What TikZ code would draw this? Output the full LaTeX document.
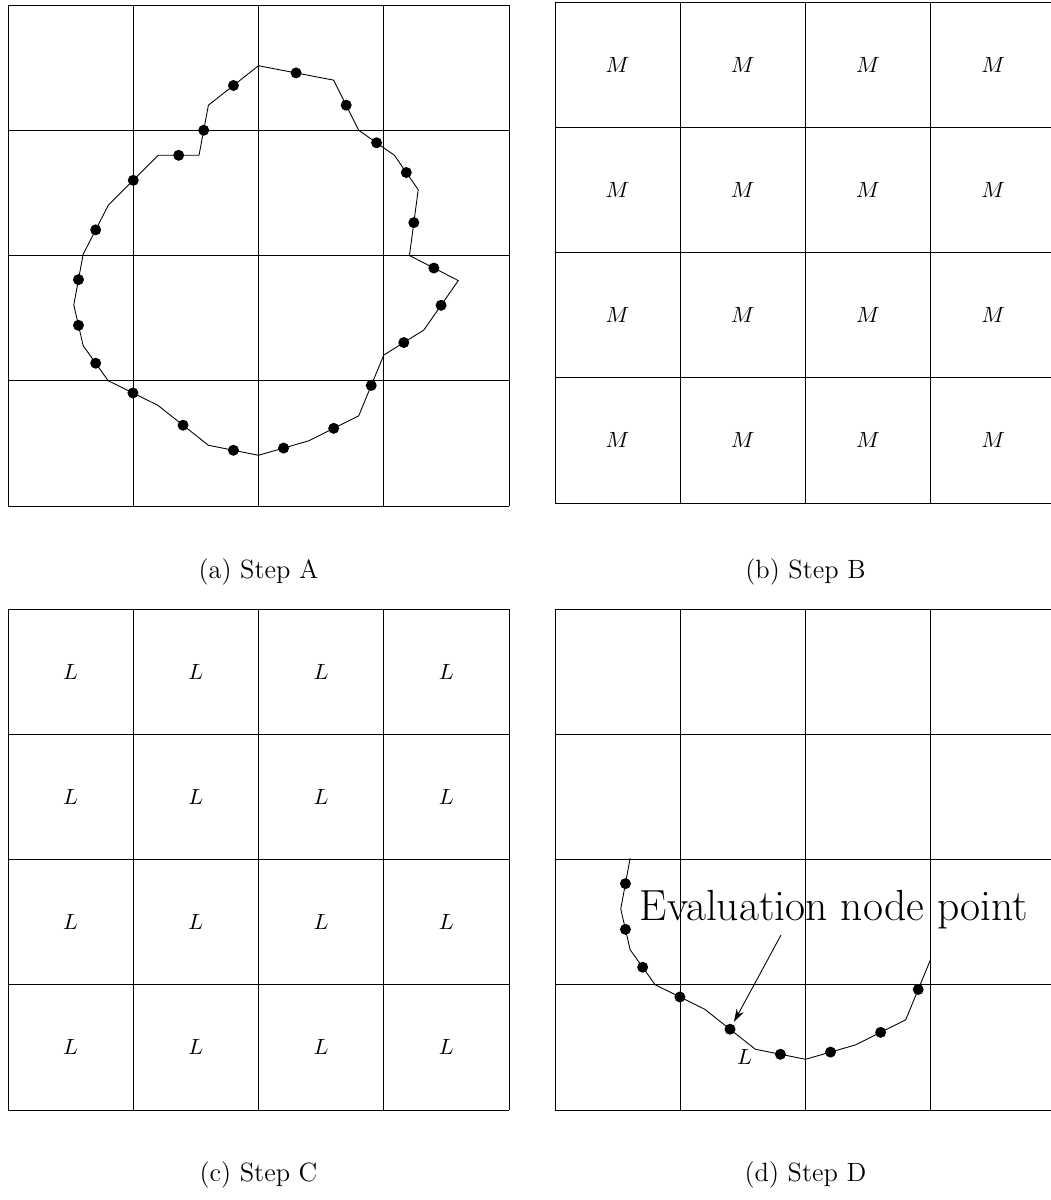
\documentclass[tikz,border=0pt]{standalone}
\usepackage{amsmath}
\usetikzlibrary{calc,arrows.meta}

\begin{document}
\begin{tikzpicture}[>={Stealth[length=6pt,width=3.6pt]},
        capfont/.style={font=\fontsize{12}{14}\selectfont, anchor=base},
        bigfont/.style={font=\fontsize{19.8}{23}\selectfont}]
        % --- 1. Parameters ---
        \def\cellW{2}
        \def\gridW{8}
        \def\dotR{2.5pt}
        % outline vertices, relative to the lower-left corner of a panel
        \def\outline{4/7.03, 5.2/6.8, 5.6/6.0, 6.17/5.6, 6.55/5.05, 6.41/4.0,
            7.19/3.6, 6.64/2.81, 6.0/2.41, 5.6/1.44, 4.8/1.04, 4.0/0.81,
            3.2/0.97, 2.39/1.61, 1.6/2.0, 1.2/2.56, 1.05/3.21, 1.2/4.02,
            1.6/4.8, 2.4/5.6, 3.05/5.6, 3.2/6.4}
        \useasboundingbox (0,0) rectangle (16.767,-19.162);
        % --- 2. Step A ---
        \begin{scope}[shift={(0.128,-8.080)}]
            \draw[step=\cellW] (0,0) grid (\gridW,\gridW);
            \foreach \x/\y [count=\i] in \outline
                \coordinate (A\i) at (\x,\y);
            \draw (A1) \foreach \i in {2,...,22} { -- (A\i) } -- cycle;
            \foreach \i [remember=\i as \j (initially 22)] in {1,...,22}
                \fill ($(A\j)!0.5!(A\i)$) circle (\dotR);
        \end{scope}
        \node[capfont] (capA) at (4.128,-9.230) {(a) Step A};
        % --- 3. Step B ---
        \begin{scope}[shift={(8.862,-8.032)}]
            \draw[step=\cellW] (0,0) grid (\gridW,\gridW);
            \foreach \c in {0,...,3}
                \foreach \r in {0,...,3}
                    \node (M-\c-\r) at ({\cellW*\c+1},{\cellW*\r+1}) {$M$};
        \end{scope}
        \node[capfont] (capB) at (12.862,-9.230) {(b) Step B};
        % --- 4. Step C ---
        \begin{scope}[shift={(0.128,-17.725)}]
            \draw[step=\cellW] (0,0) grid (\gridW,\gridW);
            \foreach \c in {0,...,3}
                \foreach \r in {0,...,3}
                    \node (L-\c-\r) at ({\cellW*\c+1},{\cellW*\r+1}) {$L$};
        \end{scope}
        \node[capfont] (capC) at (4.128,-18.874) {(c) Step C};
        % --- 5. Step D ---
        \begin{scope}[shift={(8.862,-17.725)}]
            \draw[step=\cellW] (0,0) grid (\gridW,\gridW);
            \foreach \x/\y [count=\i] in \outline
                \coordinate (D\i) at (\x,\y);
            \draw (D18) \foreach \i in {17,...,9} { -- (D\i) };
            \foreach \i [evaluate=\i as \k using int(\i+1)] in {9,...,17}
                \fill ($(D\i)!0.5!(D\k)$) circle (\dotR);
            \coordinate (evdot) at ($(D13)!0.5!(D14)$);
            \coordinate (evtail) at (3.609,2.794);
            \node[bigfont, anchor=base west] (evlabel) at (1.23,3.02) {Evaluation node point};
            \draw[->, shorten >=3.7pt] (evtail) -- (evdot);
            \node (L-ev) at (3.03,0.85) {$L$};
        \end{scope}
        \node[capfont] (capD) at (12.862,-18.874) {(d) Step D};
    \end{tikzpicture}
\end{document}
